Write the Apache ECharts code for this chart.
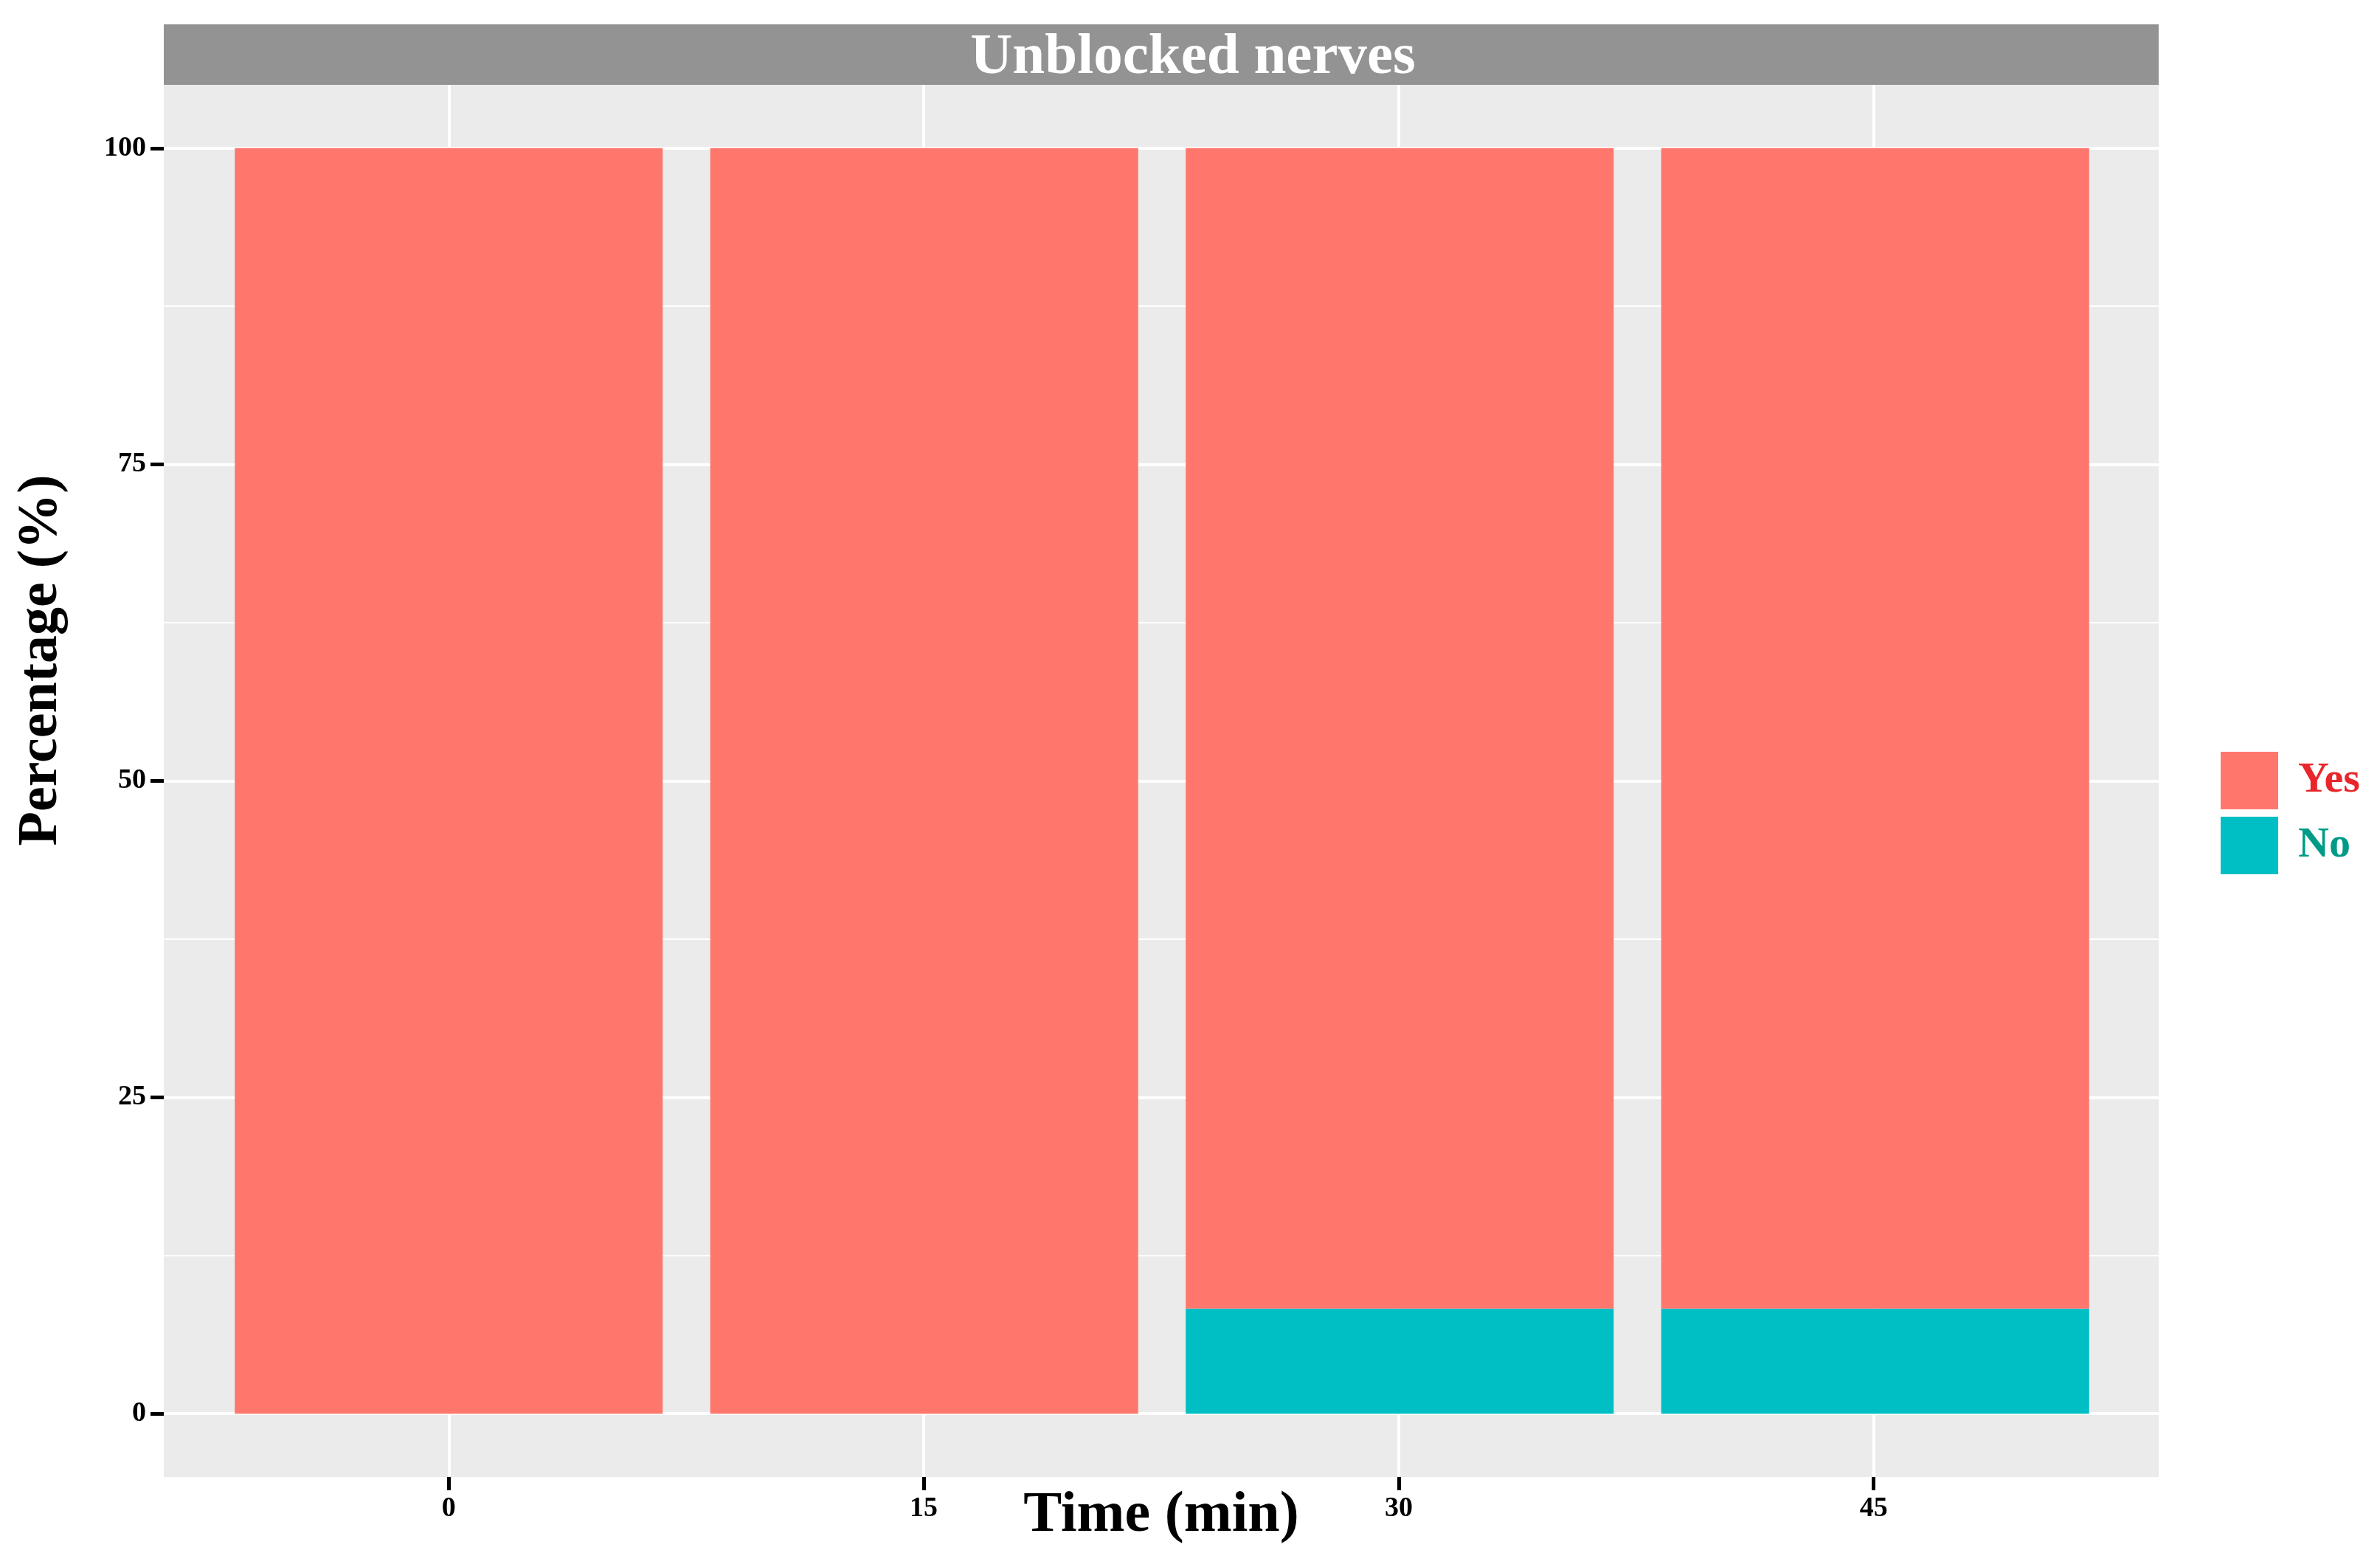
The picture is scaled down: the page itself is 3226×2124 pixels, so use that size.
<!DOCTYPE html>
<html>
<head>
<meta charset="utf-8">
<script src="https://cdn.jsdelivr.net/npm/echarts@6/dist/echarts.min.js"></script>
<style>
html,body{margin:0;padding:0;background:#fff;}
#chart{width:3226px;height:2124px;}
</style>
</head>
<body>
<div id="chart"></div>
<script>
// ---- data ----
const panelTitle = 'Unblocked nerves';
const times = [0, 15, 30, 45];
const timeLabels = ['0', '15', '30', '45'];
const yesValues = [100, 100, 91.7, 91.7];
const noValues = [0, 0, 8.3, 8.3];
const yTicks = [0, 25, 50, 75, 100];
const yMinor = [12.5, 37.5, 62.5, 87.5];

const FONT = '"Liberation Serif", "DejaVu Serif", serif';
const chart = echarts.init(document.getElementById('chart'));

const option = {
  backgroundColor: '#ffffff',
  animation: false,
  title: {
    text: panelTitle,
    left: 1617,
    top: 38,
    textAlign: 'center',
    padding: 0,
    textStyle: {
      color: '#ffffff', fontFamily: FONT, fontWeight: 'bold',
      fontSize: 79, lineHeight: 82
    }
  },
  legend: {
    orient: 'vertical',
    left: 3005,
    top: 1014,
    itemWidth: 78,
    itemHeight: 78,
    itemGap: 10,
    icon: 'rect',
    textStyle: { fontFamily: FONT, fontWeight: 'bold', fontSize: 58, padding: [0, 0, 0, 22] },
    data: [
      { name: 'Yes', textStyle: { color: '#E8262B' } },
      { name: 'No', textStyle: { color: '#009B87' } }
    ]
  },
  graphic: [
    { type: 'rect', z: -1, shape: { x: 222, y: 33, width: 2704, height: 82 }, style: { fill: '#939393' } },
    {
      type: 'text', x: 56, y: 895, rotation: Math.PI / 2,
      style: {
        text: 'Percentage (%)', font: 'bold 76px ' + FONT, fill: '#000',
        align: 'center', verticalAlign: 'middle', textAlign: 'center', textVerticalAlign: 'middle'
      }
    }
  ],
  grid: [
    {
      left: 222, right: 300, top: 115, bottom: 122, outerBoundsMode: 'none',
      show: true, backgroundColor: '#EBEBEB', borderWidth: 0
    },
    {
      left: 286, right: 362, top: 115, bottom: 122, outerBoundsMode: 'none',
      show: false
    }
  ],
  xAxis: [
    {
      gridIndex: 0,
      type: 'value',
      min: -9, max: 54,
      position: 'bottom',
      name: 'Time (min)',
      nameLocation: 'middle',
      nameGap: 14,
      nameMoveOverlap: false,
      nameTextStyle: { fontFamily: FONT, fontWeight: 'bold', fontSize: 78, color: '#000' },
      axisLine: { show: false, onZero: false },
      axisTick: { show: true, length: 18, lineStyle: { color: '#000', width: 5 }, customValues: times },
      axisLabel: { customValues: times, margin: 24, fontFamily: FONT, fontWeight: 'bold', fontSize: 38, color: '#000' },
      splitLine: { show: false }
    },
    {
      gridIndex: 1,
      type: 'category',
      data: timeLabels,
      show: false,
      axisLine: { onZero: false },
      boundaryGap: true
    }
  ],
  yAxis: [
    {
      gridIndex: 0,
      type: 'value',
      min: -5, max: 105,
      position: 'left',
      axisLine: { show: false, onZero: false },
      axisTick: { show: true, length: 18, lineStyle: { color: '#000', width: 5 }, customValues: yTicks },
      axisLabel: { customValues: yTicks, margin: 24, fontFamily: FONT, fontWeight: 'bold', fontSize: 38, color: '#000' },
      splitLine: { show: false }
    },
    {
      gridIndex: 1,
      type: 'value',
      min: -5, max: 105,
      show: false,
      axisLine: { onZero: false },
      splitLine: { show: false }
    }
  ],
  series: [
    {
      name: 'grid', type: 'line', xAxisIndex: 0, yAxisIndex: 0, data: [], z: 1, silent: true,
      showSymbol: false,
      markLine: {
        z: 1, silent: true, symbol: ['none', 'none'], animation: false,
        label: { show: false },
        emphasis: { disabled: true },
        data: [
          ...yTicks.map(v => ({ yAxis: v, lineStyle: { color: '#fff', width: 4, type: 'solid' } })),
          ...yMinor.map(v => ({ yAxis: v, lineStyle: { color: '#fff', width: 2, type: 'solid' } })),
          ...times.map(v => ({ xAxis: v, lineStyle: { color: '#fff', width: 4, type: 'solid' } }))
        ]
      }
    },
    {
      name: 'No', type: 'bar', stack: 'total', z: 2,
      xAxisIndex: 1, yAxisIndex: 1,
      barCategoryGap: '10%',
      itemStyle: { color: '#00BFC4' },
      data: noValues
    },
    {
      name: 'Yes', type: 'bar', stack: 'total', z: 2,
      xAxisIndex: 1, yAxisIndex: 1,
      barCategoryGap: '10%',
      itemStyle: { color: '#FF766D' },
      data: yesValues
    }
  ]
};
chart.setOption(option);
</script>
</body>
</html>
